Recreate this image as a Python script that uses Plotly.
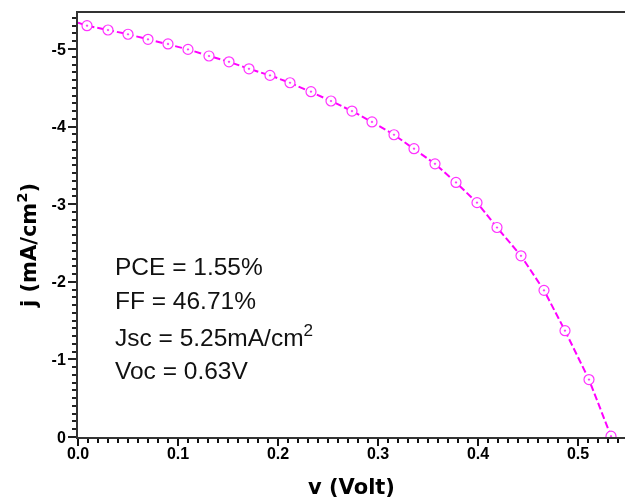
import plotly.graph_objects as go

# Data (voltage in V, current density in mA/cm^2)
v = [0.009, 0.030, 0.050, 0.070, 0.090, 0.110, 0.131, 0.151, 0.171, 0.192,
     0.212, 0.233, 0.253, 0.274, 0.294, 0.316, 0.336, 0.357, 0.378, 0.399,
     0.419, 0.443, 0.466, 0.487, 0.511, 0.533]
j = [-5.30, -5.245, -5.19, -5.125, -5.065, -4.995, -4.91, -4.835, -4.745, -4.66,
     -4.565, -4.45, -4.33, -4.20, -4.06, -3.895, -3.715, -3.52, -3.28, -3.02,
     -2.70, -2.335, -1.89, -1.37, -0.74, -0.01]
# fitted line start at the left axis
v_line_start = [0.0]
j_line_start = [-5.34]

x_tickvals = [0.0, 0.1, 0.2, 0.3, 0.4, 0.5]
x_ticktext = ["0.0", "0.1", "0.2", "0.3", "0.4", "0.5"]
y_tickvals = [-5, -4, -3, -2, -1, 0]
y_ticktext = ["-5", "-4", "-3", "-2", "-1", "0"]

stats = ["PCE = 1.55%", "FF = 46.71%", "Jsc = 5.25mA/cm<sup>2</sup>", "Voc = 0.63V"]

W, H = 625, 499
ML, MT, MB = 78, 13, 62
PW, PH = W - ML, H - MT - MB
x_max = PW / 1000.0
y_min = -PH / 77.6

def px_to_paper(px, py):
    return (px - ML) / PW, (H - MB - py) / PH

fig = go.Figure()
fig.add_trace(go.Scatter(
    x=v_line_start + v, y=j_line_start + j, mode="lines",
    line=dict(color="#FF00FF", width=2, dash="7px,3px"),
    hoverinfo="skip", showlegend=False))
fig.add_trace(go.Scatter(
    x=v, y=j, mode="markers",
    marker=dict(symbol="circle-dot", size=10, color="white",
                line=dict(color="#FF33FF", width=1.2)),
    showlegend=False))
# invisible trace that carries the label axes
fig.add_trace(go.Scatter(
    x=v, y=j, mode="markers", xaxis="x2", yaxis="y2", opacity=0,
    hoverinfo="skip", showlegend=False))

font_tick = dict(family="Liberation Sans, Arial", size=16, color="black", weight="bold")
fig.update_layout(
    xaxis=dict(
        range=[0, x_max], tickmode="linear", tick0=0, dtick=0.1,
        ticks="outside", ticklen=7, tickwidth=2, tickcolor="#111",
        showline=True, linecolor="#333", linewidth=1.5, mirror=True,
        showgrid=False, zeroline=False, showticklabels=False,
        minor=dict(dtick=0.01, tick0=0, ticks="outside", ticklen=4,
                   tickwidth=1.5, tickcolor="#111", showgrid=False)),
    yaxis=dict(
        range=[0, y_min], tickmode="linear", tick0=0, dtick=1,
        ticks="outside", ticklen=8, tickwidth=2, tickcolor="#222",
        showline=True, linecolor="#333", linewidth=1.5, mirror=False,
        showgrid=False, zeroline=False, showticklabels=False,
        minor=dict(dtick=0.1, tick0=0, ticks="outside", ticklen=4,
                   tickwidth=1.5, tickcolor="#222", showgrid=False)),
    xaxis2=dict(
        overlaying="x", side="bottom", anchor="y2", range=[0, x_max],
        tickmode="array", tickvals=x_tickvals, ticktext=x_ticktext,
        ticks="outside", ticklen=7, tickcolor="rgba(0,0,0,0)", ticklabelstandoff=-5,
        showline=False, showgrid=False, zeroline=False, tickfont=font_tick),
    yaxis2=dict(
        overlaying="y", side="left", anchor="x2", range=[0, y_min],
        tickmode="array", tickvals=y_tickvals, ticktext=y_ticktext,
        ticks="outside", ticklen=8, tickcolor="rgba(0,0,0,0)",
        showline=False, showgrid=False, zeroline=False, tickfont=font_tick),
)

annotations = []
stat_y = [266, 300.5, 335.3, 370.5]
for txt, py in zip(stats, stat_y):
    ax, ay = px_to_paper(114, py)
    annotations.append(dict(text=txt, x=ax, y=ay, xref="paper", yref="paper",
                            xanchor="left", yanchor="middle", showarrow=False,
                            borderpad=0,
                            font=dict(family="Liberation Sans, Arial", size=24.5, color="#111")))
tx, ty = px_to_paper(351, 487)
annotations.append(dict(text="<b>v (Volt)</b>", x=tx, y=ty, xref="paper", yref="paper",
                        xanchor="center", yanchor="middle", showarrow=False, borderpad=0,
                        font=dict(family="DejaVu Sans", size=21, color="black")))
tx, ty = px_to_paper(27, 246)
annotations.append(dict(text="<b>j (mA/cm<sup>2</sup>)</b>", x=tx, y=ty, xref="paper", yref="paper",
                        xanchor="center", yanchor="middle", showarrow=False, borderpad=0,
                        textangle=-90,
                        font=dict(family="DejaVu Sans", size=21, color="black")))

fig.update_layout(
    width=W, height=H,
    margin=dict(l=ML, r=0, t=MT, b=MB),
    paper_bgcolor="white", plot_bgcolor="white",
    annotations=annotations, showlegend=False)

fig.write_html("out.html")
